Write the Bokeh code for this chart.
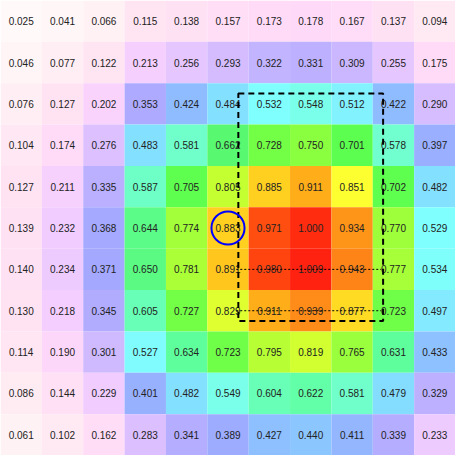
from bokeh.plotting import figure
from bokeh.models import ColumnDataSource, LinearColorMapper
from bokeh.embed import file_html
from bokeh.resources import INLINE
from bokeh.core.properties import value

# Heatmap values, top row first (11 x 11)
row0 = [0.025, 0.041, 0.066, 0.115, 0.138, 0.157, 0.173, 0.178, 0.167, 0.137, 0.094]
row1 = [0.046, 0.077, 0.122, 0.213, 0.256, 0.293, 0.322, 0.331, 0.309, 0.255, 0.175]
row2 = [0.076, 0.127, 0.202, 0.353, 0.424, 0.484, 0.532, 0.548, 0.512, 0.422, 0.290]
row3 = [0.104, 0.174, 0.276, 0.483, 0.581, 0.662, 0.728, 0.750, 0.701, 0.578, 0.397]
row4 = [0.127, 0.211, 0.335, 0.587, 0.705, 0.805, 0.885, 0.911, 0.851, 0.702, 0.482]
row5 = [0.139, 0.232, 0.368, 0.644, 0.774, 0.883, 0.971, 1.000, 0.934, 0.770, 0.529]
row6 = [0.140, 0.234, 0.371, 0.650, 0.781, 0.891, 0.980, 1.009, 0.943, 0.777, 0.534]
row7 = [0.130, 0.218, 0.345, 0.605, 0.727, 0.829, 0.911, 0.939, 0.877, 0.723, 0.497]
row8 = [0.114, 0.190, 0.301, 0.527, 0.634, 0.723, 0.795, 0.819, 0.765, 0.631, 0.433]
row9 = [0.086, 0.144, 0.229, 0.401, 0.482, 0.549, 0.604, 0.622, 0.581, 0.479, 0.329]
row10 = [0.061, 0.102, 0.162, 0.283, 0.341, 0.389, 0.427, 0.440, 0.411, 0.339, 0.233]
rows = [row0, row1, row2, row3, row4, row5, row6, row7, row8, row9, row10]

# colour scale anchors (value -> colour), used to build a palette
anchor_vals = [0.0, 0.06, 0.12, 0.18, 0.22, 0.28, 0.32, 0.35, 0.38, 0.42, 0.48, 0.53,
               0.58, 0.63, 0.66, 0.70, 0.75, 0.78, 0.81, 0.83, 0.85, 0.885, 0.91,
               0.94, 0.97, 1.009]
anchor_cols = ["#ffffff", "#fff2f4", "#ffe4f2", "#ffdaf8", "#f4ceff", "#dcc0ff",
               "#c4b4ff", "#aeaaff", "#a0a8ff", "#90baff", "#84deff", "#80ffff",
               "#70ffcc", "#60ffa0", "#58f870", "#5cff50", "#88ff40", "#a8ff38",
               "#c8ff30", "#e0ff30", "#ffff30", "#ffd020", "#ffb018", "#ff8c18",
               "#ff5010", "#ff2010"]

vmin, vmax = anchor_vals[0], anchor_vals[-1]


def hex2rgb(h):
    return [int(h[i:i + 2], 16) for i in (1, 3, 5)]


def build_palette(n=256):
    pal = []
    for k in range(n):
        v = vmin + (vmax - vmin) * (k + 0.5) / n
        for i in range(len(anchor_vals) - 1):
            if anchor_vals[i] <= v <= anchor_vals[i + 1]:
                t = (v - anchor_vals[i]) / (anchor_vals[i + 1] - anchor_vals[i])
                a, b = hex2rgb(anchor_cols[i]), hex2rgb(anchor_cols[i + 1])
                c = [round(a[j] + (b[j] - a[j]) * t) for j in range(3)]
                pal.append("#%02x%02x%02x" % tuple(c))
                break
    return pal


xs, ys, zs, labels = [], [], [], []
for r, row in enumerate(rows):
    for c, z in enumerate(row):
        xs.append(c)
        ys.append(r)
        zs.append(z)
        labels.append("%.3f" % z)

src = ColumnDataSource(dict(x=xs, y=ys, z=zs, label=labels))
mapper = LinearColorMapper(palette=build_palette(), low=vmin, high=vmax)

n = len(rows)
p = figure(width=455, height=455, x_range=(-0.5, n - 0.5), y_range=(n - 0.5, -0.5),
           output_backend="svg", toolbar_location=None, min_border=0)
p.axis.visible = False
p.grid.visible = False
p.outline_line_color = None
p.background_fill_color = "white"

p.rect(x="x", y="y", width=1, height=1, source=src,
       fill_color={"field": "z", "transform": mapper}, line_color=None)

p.text(x="x", y="y", text="label", source=src, text_align="center",
       text_baseline="middle", text_font=value("Liberation Sans"),
       text_font_size="10px", text_color="#222222")

# overlays
p.quad(left=[5.25], right=[8.75], top=[1.75], bottom=[7.25], fill_color=None,
       line_color="black", line_width=2, line_dash="6 4")
p.segment(x0=[5.2, 5.2], y0=[6, 7], x1=[8.7, 8.7], y1=[6, 7],
          line_color="black", line_width=1, line_dash="2 2")
p.circle(x=[5], y=[5], radius=0.4, fill_color=None, line_color="blue", line_width=2)

open("out.html", "w").write(file_html(p, INLINE))
